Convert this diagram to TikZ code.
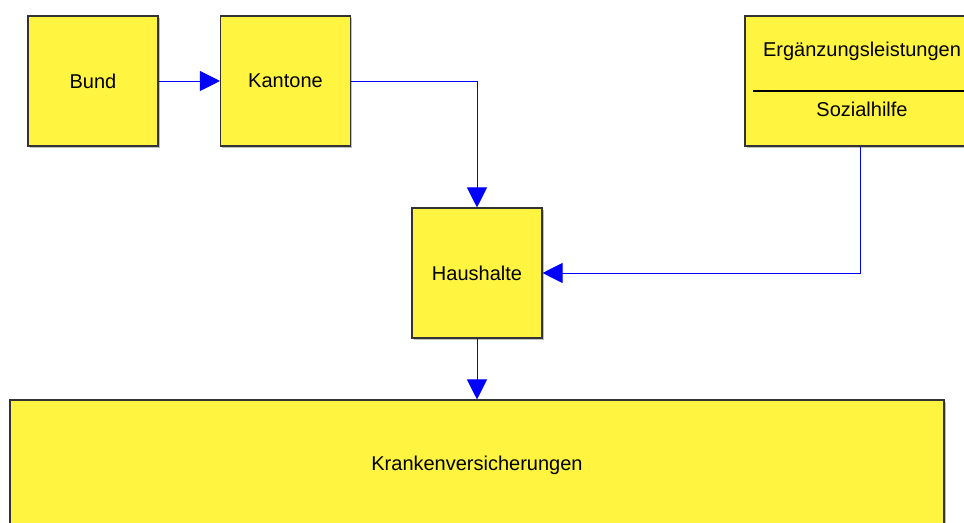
\documentclass[tikz,border=0pt]{standalone}
\usepackage{fontspec}
\setmainfont{Liberation Sans}
\usetikzlibrary{arrows.meta,shadows}

\begin{document}
\begin{tikzpicture}[x=0.75pt,y=-0.75pt,
    box/.style={draw=black!80,line width=0.8pt,fill=yellow!75!white,inner sep=0pt,
        minimum width=97.5pt,minimum height=97.5pt,
        drop shadow={shadow xshift=1.2pt,shadow yshift=-1.2pt,fill=black!25,opacity=1}},
    flow/.style={draw=blue,line width=0.7pt,-{Triangle[length=15pt,width=15pt]}},
    every node/.style={font=\fontsize{15}{18}\selectfont}]
\clip (0,0) rectangle (964,523);
\fill[white] (0,0) rectangle (964,523);
\node[box] (bund) at (93,81) {Bund};
\node[box] (kantone) at (285.5,81) {Kantone};
\node[box,minimum width=172.5pt] (erg) at (860,81) {};
\node (ergtext) at (862,51) {Ergänzungsleistungen};
\node (sozial) at (862,109) {Sozialhilfe};
\draw[black,line width=0.8pt] (753,91) -- (970,91);
\node[box] (haushalte) at (477,273) {Haushalte};
\node[box,minimum width=700.5pt] (kranken) at (477,465) {Krankenversicherungen};
\draw[flow] (bund) -- (kantone);
\draw[flow] (kantone.east) -| (haushalte.north);
\draw[flow] (erg.south) |- (haushalte.east);
\draw[flow] (haushalte) -- (kranken);
\end{tikzpicture}
\end{document}
